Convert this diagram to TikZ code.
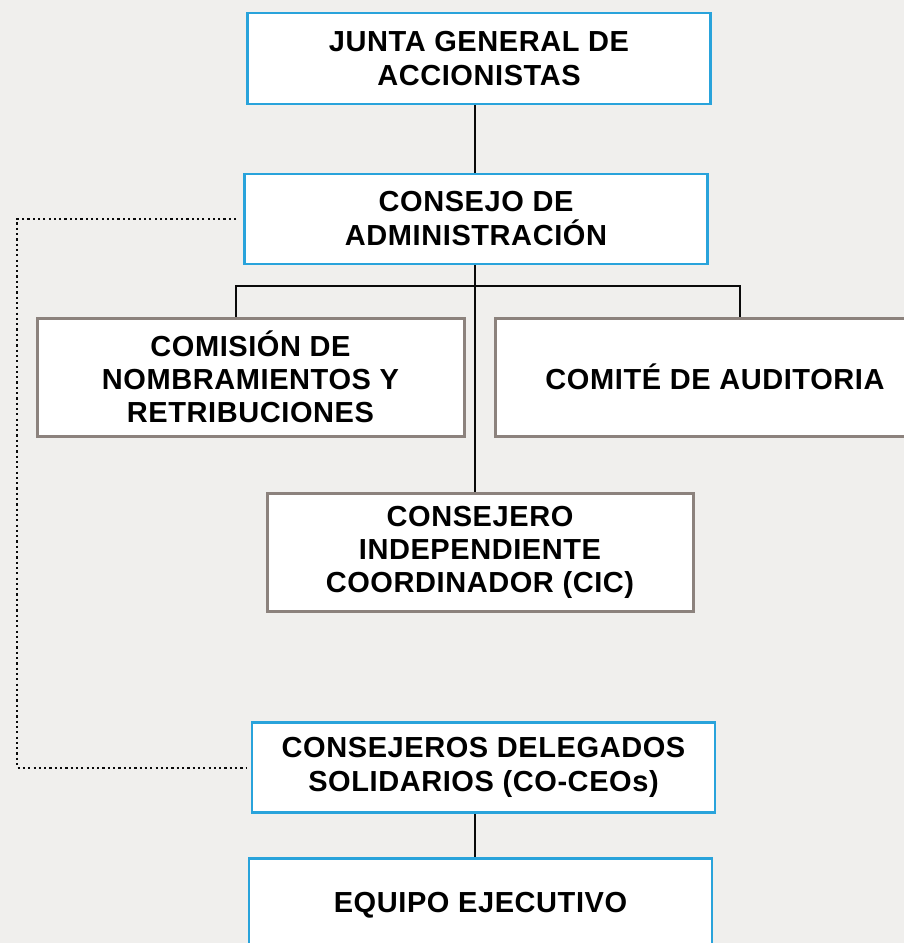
\documentclass[tikz,border=0pt]{standalone}
\usepackage{fontspec}
\setmainfont[LetterSpace=2]{Liberation Sans}
\usepackage{xcolor}
\usetikzlibrary{positioning, calc}
\definecolor{PageGray}{RGB}{240,239,237}
\definecolor{BoardBlue}{RGB}{41,163,219}
\definecolor{CommGray}{RGB}{140,130,125}
\definecolor{LinkBlack}{RGB}{10,10,10}
\tikzset{
  %%── cajas de órganos ─────────────────────────────────────
  mainbox/.style = {
    rectangle, draw = BoardBlue, fill = white, line width = 2.6pt,
    minimum width = 463pt, minimum height = 90pt, inner sep = 0pt,
    align = center, font = \fontsize{29}{34}\selectfont\bfseries
  },
  commbox/.style = {
    rectangle, draw = CommGray, fill = white, line width = 3pt,
    minimum height = 118pt, inner sep = 0pt,
    align = center, font = \fontsize{29}{33}\selectfont\bfseries
  },
  %%── conectores ───────────────────────────────────────────
  link/.style    = {line width = 2.2pt, color = LinkBlack},
  dotlink/.style = {line width = 2.2pt, color = LinkBlack,
                    dash pattern = on 2.2pt off 3.1pt},
}

\begin{document}
\begin{tikzpicture}[x = 1pt, y = -1pt]

  %% ── fondo y marco ─────────────────────────────────────
  \fill[PageGray] (0,0) rectangle (904,943);
  \useasboundingbox (0,0) rectangle (904,943);
  \clip (0,0) rectangle (904,943);

  %% ── columna central ───────────────────────────────────
  \node[mainbox, minimum height = 91pt] (junta) at (479,58.5)
    {JUNTA GENERAL DE\\ACCIONISTAS};
  \node[mainbox, below = 67.4pt of junta, xshift = -3pt] (consejo)
    {CONSEJO DE\\ADMINISTRACIÓN};

  %% ── comisiones ────────────────────────────────────────
  \node[commbox, minimum width = 427pt] (comision) at (250.5,377)
    {COMISIÓN DE\\NOMBRAMIENTOS Y\\RETRIBUCIONES};
  \node[commbox, minimum width = 440pt] (comite) at (715,377)
    {COMITÉ DE AUDITORIA};
  \node[commbox, minimum width = 426pt, below = 227pt of consejo, xshift = 4pt] (cic)
    {CONSEJERO\\INDEPENDIENTE\\COORDINADOR (CIC)};

  %% ── ejecutivos ────────────────────────────────────────
  \node[mainbox, below = 108pt of cic, xshift = 3.5pt] (delegados)
    {CONSEJEROS DELEGADOS\\SOLIDARIOS (CO-CEOs)};
  \node[mainbox, minimum height = 94pt, below = 43.5pt of delegados, xshift = -3pt] (equipo)
    {EQUIPO EJECUTIVO};

  %% puntos de paso
  \coordinate (spine) at (475,0);
  \coordinate (busL)  at (236,286);
  \coordinate (busR)  at (740,286);
  \coordinate (dotL)  at (17,0);

  %% ── líneas ────────────────────────────────────────────
  \draw[link] (spine |- junta.south)     -- (spine |- consejo.north);
  \draw[link] (spine |- consejo.south)   -- (spine |- cic.north);
  \draw[link] (busL |- comision.north) -- (busL) -- (busR) -- (busR |- comite.north);
  \draw[link] (spine |- delegados.south) -- (spine |- equipo.north);
  \draw[dotlink, shorten <= 7pt, shorten >= 5pt]
    (consejo.west) -- (consejo.west -| dotL)
    -- (delegados.west -| dotL) -- (delegados.west);

\end{tikzpicture}
\end{document}
